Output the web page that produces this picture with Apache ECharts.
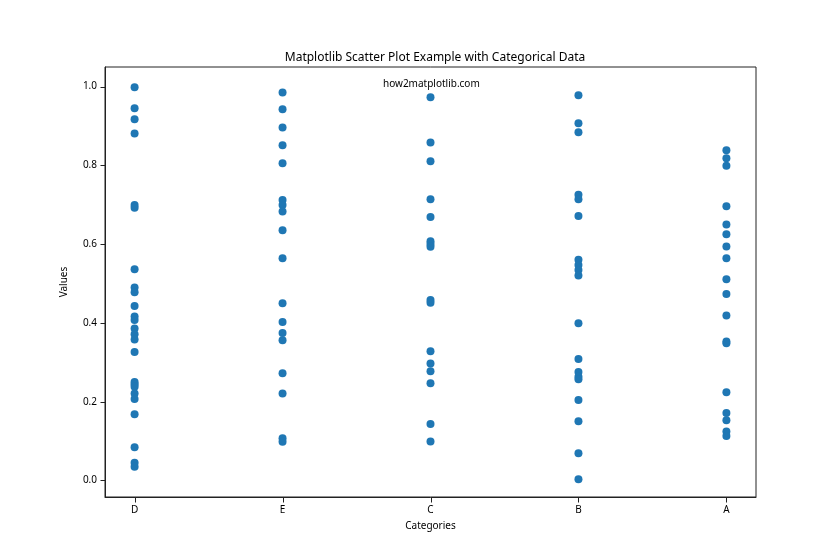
<!DOCTYPE html>
<html>
<head>
<meta charset="utf-8">
<script src="https://cdn.jsdelivr.net/npm/echarts@6/dist/echarts.min.js"></script>
<style>html,body{margin:0;padding:0;background:#fff}#c{width:840px;height:560px}</style>
</head>
<body>
<div id="c"></div>
<script>
const categories = ['D', 'E', 'C', 'B', 'A'];
const valuesD = [0.998, 0.945, 0.917, 0.881, 0.699, 0.692, 0.536, 0.490, 0.478, 0.443, 0.416, 0.407, 0.386, 0.371, 0.358, 0.326, 0.250, 0.244, 0.238, 0.221, 0.207, 0.168, 0.084, 0.045, 0.035];
const valuesE = [0.985, 0.942, 0.896, 0.851, 0.805, 0.712, 0.699, 0.683, 0.635, 0.564, 0.450, 0.402, 0.374, 0.356, 0.272, 0.221, 0.107, 0.098];
const valuesC = [0.973, 0.858, 0.810, 0.714, 0.669, 0.607, 0.600, 0.593, 0.458, 0.451, 0.328, 0.297, 0.277, 0.247, 0.143, 0.099];
const valuesB = [0.978, 0.907, 0.884, 0.725, 0.714, 0.671, 0.560, 0.547, 0.534, 0.520, 0.399, 0.308, 0.275, 0.263, 0.257, 0.204, 0.150, 0.069, 0.003];
const valuesA = [0.838, 0.818, 0.799, 0.696, 0.650, 0.625, 0.594, 0.564, 0.511, 0.473, 0.419, 0.353, 0.348, 0.224, 0.171, 0.153, 0.124, 0.113];
const yTicks = [0, 0.2, 0.4, 0.6, 0.8, 1.0];
const xTicks = [0, 1, 2, 3, 4];

const seriesValues = [valuesD, valuesE, valuesC, valuesB, valuesA];
const points = [];
seriesValues.forEach((vals, i) => vals.forEach(v => points.push([i, v])));

const X_MIN = -0.2, X_MAX = 4.2, Y_MIN = -0.042, Y_MAX = 1.0495;
const font = 'Noto Sans';
const chart = echarts.init(document.getElementById('c'));
chart.setOption({
  animation: false,
  backgroundColor: '#fff',
  title: {
    text: 'Matplotlib Scatter Plot Example with Categorical Data',
    left: 430, top: 47, textAlign: 'center',
    textStyle: {fontFamily: font, fontSize: 12, fontWeight: 'normal', color: '#000'}
  },
  graphic: [{
    type: 'text', left: 383, top: 79,
    style: {text: 'how2matplotlib.com', font: '10px "Noto Sans"', fill: '#000'}
  }],
  grid: {left: 105, right: 84, top: 67, bottom: 63, show: true, borderColor: '#222', borderWidth: 1, backgroundColor: 'transparent'},
  xAxis: {
    type: 'value', min: X_MIN, max: X_MAX, splitNumber: 5,
    name: 'Categories', nameLocation: 'middle', nameGap: 24,
    nameTextStyle: {fontFamily: font, fontSize: 10, color: '#000'},
    axisLine: {show: true, onZero: false, lineStyle: {color: '#222', width: 1}},
    splitLine: {show: false},
    axisTick: {show: false},
    axisLabel: {show: true, showMinLabel: false, showMaxLabel: false, fontFamily: font, fontSize: 10, color: '#000', margin: 8,
      formatter: v => (Math.abs(v - Math.round(v)) < 1e-6 ? (categories[Math.round(v)] || '') : '')}
  },
  yAxis: {
    type: 'value', min: Y_MIN, max: Y_MAX, splitNumber: 5,
    name: 'Values', nameLocation: 'middle', nameGap: 36, nameRotate: 90,
    nameTextStyle: {fontFamily: font, fontSize: 10, color: '#000'},
    axisLine: {show: true, onZero: false, lineStyle: {color: '#222', width: 1}},
    splitLine: {show: false},
    axisTick: {show: false},
    axisLabel: {show: true, showMinLabel: false, showMaxLabel: false, fontFamily: font, fontSize: 10, color: '#000', margin: 8,
      formatter: v => v.toFixed(1)}
  },
  series: [{
    type: 'scatter', data: points, symbolSize: 8,
    itemStyle: {color: '#1f77b4', opacity: 1}
  }, {
    type: 'custom', silent: true, clip: false, z: 10,
    data: yTicks.map(v => [X_MIN, v]),
    renderItem: function (params, api) {
      const p = api.coord([X_MIN, api.value(1)]);
      const y = Math.round(p[1]) + 0.5;
      const x = Math.round(p[0]) + 0.5;
      return {type: 'line', shape: {x1: x - 5, y1: y, x2: x, y2: y}, style: {stroke: '#222', lineWidth: 1}};
    }
  }, {
    type: 'custom', silent: true, clip: false, z: 10,
    data: xTicks.map(v => [v, Y_MIN]),
    renderItem: function (params, api) {
      const p = api.coord([api.value(0), Y_MIN]);
      const y = Math.round(p[1]) + 0.5;
      const x = Math.round(p[0]) + 0.5;
      return {type: 'line', shape: {x1: x, y1: y, x2: x, y2: y + 5}, style: {stroke: '#222', lineWidth: 1}};
    }
  }]
});
</script>
</body>
</html>
